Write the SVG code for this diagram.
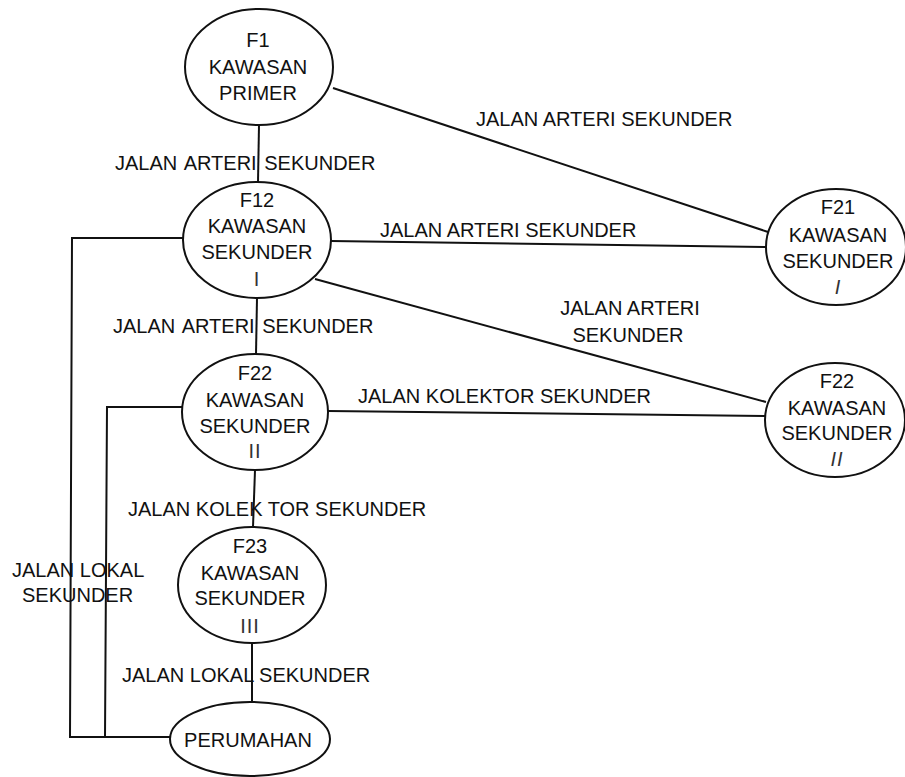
<svg xmlns="http://www.w3.org/2000/svg" width="905" height="777" viewBox="0 0 905 777">
  <style>
    .node ellipse { fill: #fff; stroke: #111; stroke-width: 2; }
    .node text { font-family: "Liberation Sans", Arial, sans-serif; font-size: 20px; fill: #111; text-anchor: middle; }
    .node text.num { font-size: 20px; fill: #333; letter-spacing: 1px; }
    #connectors line, #connectors polyline { stroke: #111; stroke-width: 2; fill: none; }
    .label { font-family: "Liberation Sans", Arial, sans-serif; font-size: 20px; fill: #111; }
  </style>
  <rect width="905" height="777" fill="#fff"/>

  <!-- roads between zones -->
  <g id="connectors">
    <line x1="259" y1="125" x2="258" y2="182"/>
    <line x1="333" y1="88" x2="768" y2="232"/>
    <line x1="331" y1="241" x2="767" y2="247"/>
    <line x1="315" y1="279" x2="766" y2="402"/>
    <line x1="257" y1="298" x2="256" y2="354"/>
    <line x1="328" y1="411" x2="765" y2="416"/>
    <line x1="255" y1="470" x2="253" y2="527"/>
    <line x1="252" y1="643" x2="252" y2="702"/>
    <polyline points="183,238 72,238 70,737 171,737"/>
    <polyline points="182,407 107,407 105,737"/>
  </g>

  <!-- road labels -->
  <g id="labels">
    <text class="label" x="476" y="126">JALAN ARTERI SEKUNDER</text>
    <text class="label" x="115" y="170" word-spacing="2">JALAN ARTERI SEKUNDER</text>
    <text class="label" x="380" y="237">JALAN ARTERI SEKUNDER</text>
    <text class="label" x="113" y="333" word-spacing="2">JALAN ARTERI SEKUNDER</text>
    <text class="label" x="630" y="315" text-anchor="middle">JALAN ARTERI</text>
    <text class="label" x="628" y="342" text-anchor="middle">SEKUNDER</text>
    <text class="label" x="358" y="403">JALAN KOLEKTOR SEKUNDER</text>
    <text class="label" x="128" y="516">JALAN KOLEK TOR SEKUNDER</text>
    <text class="label" x="12" y="577">JALAN LOKAL</text>
    <text class="label" x="22" y="602">SEKUNDER</text>
    <text class="label" x="122" y="682">JALAN LOKAL SEKUNDER</text>
  </g>

  <g id="f1" class="node">
    <ellipse cx="259" cy="67" rx="74" ry="58"/>
    <text x="258" y="47">F1</text>
    <text x="258" y="74">KAWASAN</text>
    <text x="258" y="100">PRIMER</text>
  </g>

  <g id="f12" class="node">
    <ellipse cx="257" cy="240" rx="74" ry="58"/>
    <text x="257" y="207">F12</text>
    <text x="257" y="233">KAWASAN</text>
    <text x="257" y="259">SEKUNDER</text>
    <text class="num" x="257" y="286">I</text>
  </g>

  <g id="f21" class="node">
    <ellipse cx="836" cy="247" rx="70" ry="58"/>
    <text x="838" y="214">F21</text>
    <text x="838" y="242">KAWASAN</text>
    <text x="838" y="268">SEKUNDER</text>
    <text class="num" x="838" y="294" font-style="italic">I</text>
  </g>

  <g id="f22-left" class="node">
    <ellipse cx="255" cy="412" rx="73" ry="58"/>
    <text x="255" y="380">F22</text>
    <text x="255" y="407">KAWASAN</text>
    <text x="255" y="433">SEKUNDER</text>
    <text class="num" x="255" y="458">II</text>
  </g>

  <g id="f22-right" class="node">
    <ellipse cx="835" cy="420" rx="70" ry="57"/>
    <text x="837" y="388">F22</text>
    <text x="837" y="415">KAWASAN</text>
    <text x="837" y="440">SEKUNDER</text>
    <text class="num" x="837" y="466" font-style="italic">II</text>
  </g>

  <g id="f23" class="node">
    <ellipse cx="252" cy="585" rx="74" ry="58"/>
    <text x="250" y="553">F23</text>
    <text x="250" y="580">KAWASAN</text>
    <text x="250" y="605">SEKUNDER</text>
    <text class="num" x="250" y="633">III</text>
  </g>

  <g id="perumahan" class="node">
    <ellipse cx="250" cy="739" rx="80" ry="37"/>
    <text x="248" y="747">PERUMAHAN</text>
  </g>
</svg>
